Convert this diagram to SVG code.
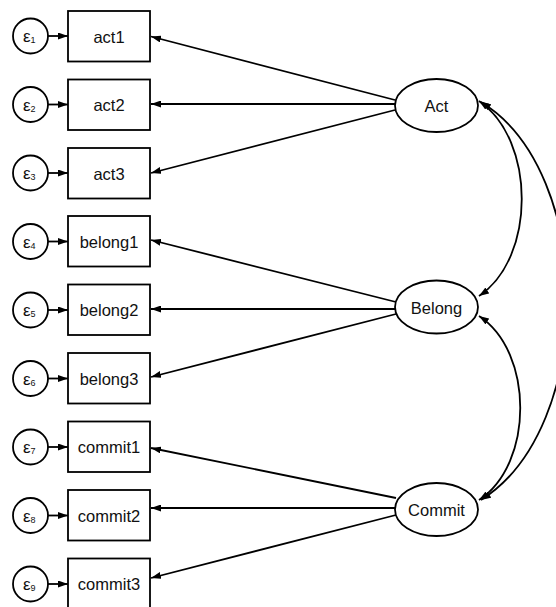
<svg xmlns="http://www.w3.org/2000/svg" width="556" height="607" viewBox="0 0 556 607">
<style>
.box{fill:#fff;stroke:#000;stroke-width:1.8}
.lat{fill:#fff;stroke:#000;stroke-width:1.8}
.err{fill:#fff;stroke:#000;stroke-width:1.8}
.lbl{font-family:"Liberation Sans",Arial,sans-serif;font-size:16.5px;fill:#111;text-anchor:middle}
.eps{font-family:"Liberation Sans",Arial,sans-serif;font-size:17px;fill:#111}
.sub{font-size:9px}
.ln{fill:none;stroke:#000;stroke-width:1.8}
</style>
<defs>
<marker id="ah" viewBox="0 0 10 10" refX="10" refY="5" markerWidth="10" markerHeight="7" markerUnits="userSpaceOnUse" orient="auto-start-reverse" preserveAspectRatio="none">
<path d="M0,0 L10,5 L0,10 Z" fill="#000"/>
</marker>
</defs>
<g id="connectors">
<line class="ln" x1="48" y1="36" x2="68" y2="36" marker-end="url(#ah)"/>
<line class="ln" x1="48" y1="104.5" x2="68" y2="104.5" marker-end="url(#ah)"/>
<line class="ln" x1="48" y1="173" x2="68" y2="173" marker-end="url(#ah)"/>
<line class="ln" x1="48" y1="241.5" x2="68" y2="241.5" marker-end="url(#ah)"/>
<line class="ln" x1="48" y1="310" x2="68" y2="310" marker-end="url(#ah)"/>
<line class="ln" x1="48" y1="378.5" x2="68" y2="378.5" marker-end="url(#ah)"/>
<line class="ln" x1="48" y1="447" x2="68" y2="447" marker-end="url(#ah)"/>
<line class="ln" x1="48" y1="515.5" x2="68" y2="515.5" marker-end="url(#ah)"/>
<line class="ln" x1="48" y1="584" x2="68" y2="584" marker-end="url(#ah)"/>
<line class="ln" x1="395" y1="100" x2="151" y2="36.5" marker-end="url(#ah)"/>
<line class="ln" x1="395" y1="104" x2="151" y2="104" marker-end="url(#ah)"/>
<line class="ln" x1="395" y1="110" x2="151" y2="173" marker-end="url(#ah)"/>
<line class="ln" x1="396" y1="302" x2="151" y2="240" marker-end="url(#ah)"/>
<line class="ln" x1="396" y1="309" x2="151" y2="309" marker-end="url(#ah)"/>
<line class="ln" x1="396" y1="314" x2="151" y2="377" marker-end="url(#ah)"/>
<line class="ln" x1="396" y1="498" x2="151" y2="448" marker-end="url(#ah)"/>
<line class="ln" x1="396" y1="508" x2="151" y2="508" marker-end="url(#ah)"/>
<line class="ln" x1="396" y1="515" x2="151" y2="578" marker-end="url(#ah)"/>
<path class="ln" d="M479,101 C536,140 536,258 479,296" marker-start="url(#ah)" marker-end="url(#ah)"/>
<path class="ln" d="M479,316 C534,352 534,464 479,500" marker-start="url(#ah)" marker-end="url(#ah)"/>
<path class="ln" d="M481,102 C596,172 596,428 481,500" marker-start="url(#ah)" marker-end="url(#ah)"/>
</g>
<g id="e1"><circle class="err" cx="30.5" cy="36" r="17.5"/><text class="eps" x="23" y="42">ε<tspan class="sub" dy="1">1</tspan></text></g>
<g id="e2"><circle class="err" cx="30.5" cy="104.5" r="17.5"/><text class="eps" x="23" y="110.5">ε<tspan class="sub" dy="1">2</tspan></text></g>
<g id="e3"><circle class="err" cx="30.5" cy="173" r="17.5"/><text class="eps" x="23" y="179">ε<tspan class="sub" dy="1">3</tspan></text></g>
<g id="e4"><circle class="err" cx="30.5" cy="241.5" r="17.5"/><text class="eps" x="23" y="247.5">ε<tspan class="sub" dy="1">4</tspan></text></g>
<g id="e5"><circle class="err" cx="30.5" cy="310" r="17.5"/><text class="eps" x="23" y="316">ε<tspan class="sub" dy="1">5</tspan></text></g>
<g id="e6"><circle class="err" cx="30.5" cy="378.5" r="17.5"/><text class="eps" x="23" y="384.5">ε<tspan class="sub" dy="1">6</tspan></text></g>
<g id="e7"><circle class="err" cx="30.5" cy="447" r="17.5"/><text class="eps" x="23" y="453">ε<tspan class="sub" dy="1">7</tspan></text></g>
<g id="e8"><circle class="err" cx="30.5" cy="515.5" r="17.5"/><text class="eps" x="23" y="521.5">ε<tspan class="sub" dy="1">8</tspan></text></g>
<g id="e9"><circle class="err" cx="30.5" cy="584" r="17.5"/><text class="eps" x="23" y="590">ε<tspan class="sub" dy="1">9</tspan></text></g>
<g id="act1"><rect class="box" x="68" y="11" width="82" height="50.5"/><text class="lbl" x="109" y="42.5">act1</text></g>
<g id="act2"><rect class="box" x="68" y="79.5" width="82" height="50.5"/><text class="lbl" x="109" y="111">act2</text></g>
<g id="act3"><rect class="box" x="68" y="148" width="82" height="50.5"/><text class="lbl" x="109" y="179.5">act3</text></g>
<g id="belong1"><rect class="box" x="68" y="216" width="82" height="50.5"/><text class="lbl" x="109" y="247.5">belong1</text></g>
<g id="belong2"><rect class="box" x="68" y="284.5" width="82" height="50.5"/><text class="lbl" x="109" y="316">belong2</text></g>
<g id="belong3"><rect class="box" x="68" y="353" width="82" height="50.5"/><text class="lbl" x="109" y="384.5">belong3</text></g>
<g id="commit1"><rect class="box" x="68" y="421.5" width="82" height="50.5"/><text class="lbl" x="109" y="453">commit1</text></g>
<g id="commit2"><rect class="box" x="68" y="490" width="82" height="50.5"/><text class="lbl" x="109" y="521.5">commit2</text></g>
<g id="commit3"><rect class="box" x="68" y="558.5" width="82" height="50.5"/><text class="lbl" x="109" y="590">commit3</text></g>
<g id="Act"><ellipse class="lat" cx="436.5" cy="105.5" rx="41.5" ry="26.5"/><text class="lbl" x="436.5" y="112">Act</text></g>
<g id="Belong"><ellipse class="lat" cx="436.5" cy="307" rx="41.5" ry="26.5"/><text class="lbl" x="436.5" y="313.5">Belong</text></g>
<g id="Commit"><ellipse class="lat" cx="436.5" cy="509.5" rx="41.5" ry="26.5"/><text class="lbl" x="436.5" y="516">Commit</text></g>
</svg>
